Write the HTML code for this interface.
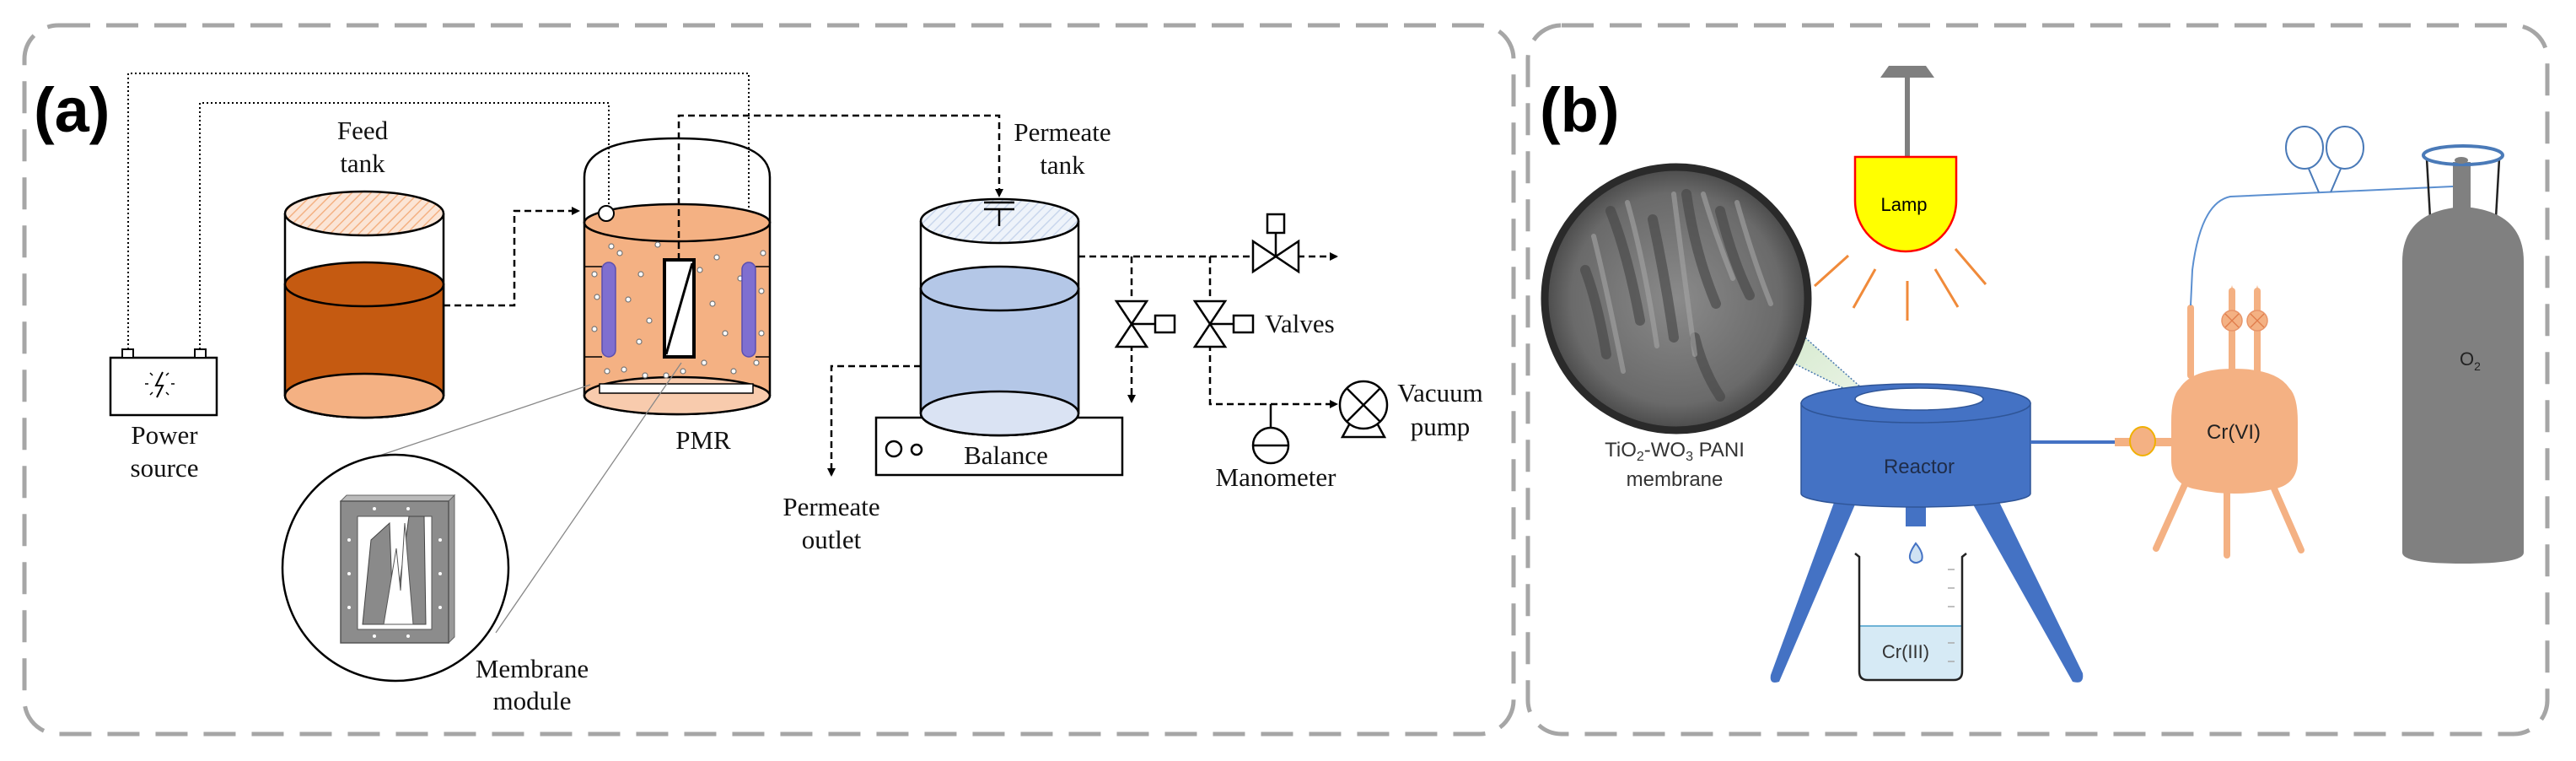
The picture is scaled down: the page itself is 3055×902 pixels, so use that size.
<!DOCTYPE html>
<html><head><meta charset="utf-8"><style>html,body{margin:0;padding:0;background:#fff}svg{display:block}</style></head><body>
<svg width="3055" height="902" viewBox="0 0 3055 902" xmlns="http://www.w3.org/2000/svg">
<defs>
<pattern id="hatchO" width="8" height="8" patternUnits="userSpaceOnUse" patternTransform="rotate(45)"><rect width="8" height="8" fill="#fbe5d6"/><line x1="0" y1="0" x2="0" y2="8" stroke="#f4b183" stroke-width="3"/></pattern>
<pattern id="hatchB" width="8" height="8" patternUnits="userSpaceOnUse" patternTransform="rotate(45)"><rect width="8" height="8" fill="#eef3fa"/><line x1="0" y1="0" x2="0" y2="8" stroke="#c9d6ec" stroke-width="3"/></pattern>
<marker id="arr" markerWidth="10" markerHeight="10" refX="8" refY="5" orient="auto" markerUnits="userSpaceOnUse"><path d="M0,0 L10,5 L0,10 z" fill="#000"/></marker>
<radialGradient id="sem" cx="50%" cy="50%" r="50%"><stop offset="0" stop-color="#8a8a8a"/><stop offset="0.8" stop-color="#6a6a6a"/><stop offset="1" stop-color="#4a4a4a"/></radialGradient>
<linearGradient id="cone" x1="0" y1="0" x2="1" y2="1"><stop offset="0" stop-color="#d7ead0"/><stop offset="1" stop-color="#eef6ea"/></linearGradient>
</defs>
<g fill="none" stroke="#a6a6a6" stroke-width="5" stroke-dasharray="38 19">
<rect x="29" y="30" width="1766" height="840" rx="40"/>
<rect x="1812" y="30" width="1209" height="840" rx="40"/>
</g>

<!-- Panel (a) -->
<text x="40" y="156" font-family="Liberation Sans, sans-serif" font-weight="bold" font-size="74">(a)</text>

<g fill="none" stroke="#000" stroke-width="2" stroke-dasharray="2 3">
<polyline points="152,414 152,87 888,87 888,311"/>
<polyline points="237,414 237,122 722,122 722,311"/>
</g>

<!-- battery -->
<rect x="131" y="424" width="126" height="68" fill="#fff" stroke="#000" stroke-width="2.5"/>
<rect x="145" y="414" width="13" height="10" fill="#fff" stroke="#000" stroke-width="2"/>
<rect x="231" y="414" width="13" height="10" fill="#fff" stroke="#000" stroke-width="2"/>
<path d="M193,441 L185,457 L193,457 L186,471" fill="none" stroke="#000" stroke-width="2"/>
<g stroke="#000" stroke-width="1.5"><line x1="172" y1="455" x2="176" y2="455"/><line x1="203" y1="455" x2="207" y2="455"/><line x1="178" y1="442" x2="181" y2="445"/><line x1="200" y1="442" x2="197" y2="445"/><line x1="178" y1="468" x2="181" y2="465"/><line x1="200" y1="468" x2="197" y2="465"/></g>

<!-- feed tank -->
<path d="M338,253 L338,469 A94,26 0 0 0 526,469 L526,253" fill="#fff" stroke="#000" stroke-width="2.5"/>
<path d="M338,337 L338,469 A94,26 0 0 0 526,469 L526,337 Z" fill="#c55a11" stroke="#000" stroke-width="2.5"/>
<ellipse cx="432" cy="469" rx="94" ry="26" fill="#f4b183" stroke="#000" stroke-width="2.5"/>
<ellipse cx="432" cy="337" rx="94" ry="26" fill="#c55a11" stroke="#000" stroke-width="2.5"/>
<ellipse cx="432" cy="253" rx="94" ry="26" fill="url(#hatchO)" stroke="#000" stroke-width="2.5"/>

<polyline points="526,362 610,362 610,250 686,250" fill="none" stroke="#000" stroke-width="2.5" stroke-dasharray="8 5" marker-end="url(#arr)"/>

<!-- PMR -->
<path d="M693,264 L693,469 A110,22 0 0 0 913,469 L913,264 Z" fill="#f4b183" stroke="#000" stroke-width="2.5"/>
<ellipse cx="803" cy="469" rx="110" ry="22" fill="#f8cbad" stroke="#000" stroke-width="2.5"/>
<ellipse cx="803" cy="264" rx="110" ry="22" fill="#f4b183" stroke="#000" stroke-width="2.5"/>
<path d="M693,264 L693,210 Q693,164 803,164 Q913,164 913,210 L913,264" fill="none" stroke="#000" stroke-width="2.5"/>
<g stroke="#000" stroke-width="1.5"><line x1="693" y1="316" x2="714" y2="316"/><line x1="693" y1="423" x2="714" y2="423"/><line x1="896" y1="316" x2="913" y2="316"/><line x1="896" y1="423" x2="913" y2="423"/></g>
<g fill="#fff" stroke="#777" stroke-width="1.2">
<circle cx="705" cy="325" r="3"/><circle cx="708" cy="352" r="3"/><circle cx="705" cy="390" r="3"/><circle cx="735" cy="300" r="3"/><circle cx="760" cy="325" r="3"/><circle cx="745" cy="355" r="3"/><circle cx="770" cy="380" r="3"/><circle cx="758" cy="405" r="3"/><circle cx="780" cy="290" r="3"/><circle cx="765" cy="445" r="3"/><circle cx="740" cy="438" r="3"/><circle cx="830" cy="320" r="3"/><circle cx="850" cy="305" r="3"/><circle cx="845" cy="360" r="3"/><circle cx="860" cy="395" r="3"/><circle cx="835" cy="430" r="3"/><circle cx="870" cy="440" r="3"/><circle cx="905" cy="300" r="3"/><circle cx="903" cy="345" r="3"/><circle cx="903" cy="395" r="3"/><circle cx="897" cy="430" r="3"/><circle cx="810" cy="440" r="3"/><circle cx="720" cy="440" r="3"/><circle cx="790" cy="445" r="3"/><circle cx="878" cy="330" r="3"/><circle cx="725" cy="292" r="3"/>
</g>
<rect x="714" y="311" width="16" height="112" rx="8" fill="#7f6fd0" stroke="#5b4fb0" stroke-width="1.5"/>
<rect x="880" y="311" width="16" height="112" rx="8" fill="#7f6fd0" stroke="#5b4fb0" stroke-width="1.5"/>
<rect x="788" y="308" width="35" height="115" fill="#fff" stroke="#000" stroke-width="4"/>
<line x1="790" y1="420" x2="821" y2="312" stroke="#000" stroke-width="3"/>
<rect x="711" y="455" width="182" height="11" fill="#fff" stroke="#000" stroke-width="1.5"/>
<circle cx="719" cy="253" r="9" fill="#fff" stroke="#000" stroke-width="2"/>

<g stroke="#888" stroke-width="1.3"><line x1="700" y1="456" x2="450" y2="540"/><line x1="808" y1="430" x2="588" y2="750"/></g>
<circle cx="469" cy="673" r="134" fill="#fff" stroke="#000" stroke-width="2.5"/>
<!-- membrane module -->
<path d="M404,594 L411,587 L539,587 L532,594 Z" fill="#bbb" stroke="#666"/>
<path d="M532,594 L539,587 L539,755 L532,762 Z" fill="#999" stroke="#666"/>
<rect x="404" y="594" width="128" height="168" fill="#8c8c8c" stroke="#555" stroke-width="1.5"/>
<rect x="424" y="612" width="88" height="134" fill="#fff" stroke="#555"/>
<path d="M430,740 L440,640 L462,620 L465,700 L470,720 L485,612 L503,612 L505,740 Z" fill="#8a8a8a" stroke="#444"/>
<path d="M455,740 L470,650 L475,700 L480,620 L490,740 Z" fill="#fff" stroke="#555"/>
<g fill="#fff"><circle cx="444" cy="603" r="2"/><circle cx="484" cy="603" r="2"/><circle cx="414" cy="640" r="2"/><circle cx="414" cy="680" r="2"/><circle cx="414" cy="720" r="2"/><circle cx="522" cy="640" r="2"/><circle cx="522" cy="680" r="2"/><circle cx="522" cy="720" r="2"/><circle cx="444" cy="754" r="2"/><circle cx="484" cy="754" r="2"/></g>

<polyline points="805,308 805,137 1185,137 1185,232" fill="none" stroke="#000" stroke-width="2.5" stroke-dasharray="8 5" marker-end="url(#arr)"/>

<!-- balance & permeate tank -->
<rect x="1039" y="495" width="292" height="68" fill="#fff" stroke="#000" stroke-width="2.5"/>
<circle cx="1060" cy="532" r="9" fill="none" stroke="#000" stroke-width="2.5"/>
<circle cx="1087" cy="533" r="6" fill="none" stroke="#000" stroke-width="2.5"/>
<path d="M1092,262 L1092,490 A93.5,26 0 0 0 1279,490 L1279,262" fill="#fff" stroke="#000" stroke-width="2.5"/>
<path d="M1092,342 L1092,490 A93.5,26 0 0 0 1279,490 L1279,342 Z" fill="#b4c7e7" stroke="#000" stroke-width="2.5"/>
<ellipse cx="1185.5" cy="490" rx="93.5" ry="26" fill="#dae3f3" stroke="#000" stroke-width="2.5"/>
<ellipse cx="1185.5" cy="342" rx="93.5" ry="26" fill="#b4c7e7" stroke="#000" stroke-width="2.5"/>
<ellipse cx="1185.5" cy="262" rx="93.5" ry="26" fill="url(#hatchB)" stroke="#000" stroke-width="2.5"/>
<g stroke="#000" stroke-width="2.5"><line x1="1167" y1="240" x2="1203" y2="240"/><line x1="1167" y1="248" x2="1203" y2="248"/><line x1="1185" y1="248" x2="1185" y2="268"/></g>

<g fill="none" stroke="#000" stroke-width="2.5" stroke-dasharray="8 5">
<polyline points="1092,434 986,434 986,563" marker-end="url(#arr)"/>
<polyline points="1279,304 1585,304" marker-end="url(#arr)"/>
<polyline points="1342,304 1342,476" marker-end="url(#arr)"/>
<polyline points="1435,304 1435,479 1585,479" marker-end="url(#arr)"/>
</g>
<!-- valves -->
<g fill="#fff" stroke="#000" stroke-width="2.5">
<path d="M1486,286 L1486,322 L1540,286 L1540,322 Z"/>
<line x1="1513" y1="304" x2="1513" y2="276"/><rect x="1503" y="254" width="20" height="22"/>
<path d="M1324,357 L1360,357 L1324,411 L1360,411 Z"/>
<line x1="1342" y1="384" x2="1370" y2="384"/><rect x="1370" y="374" width="23" height="20"/>
<path d="M1417,357 L1453,357 L1417,411 L1453,411 Z"/>
<line x1="1435" y1="384" x2="1463" y2="384"/><rect x="1463" y="374" width="23" height="20"/>
<line x1="1507" y1="479" x2="1507" y2="507"/>
<circle cx="1507" cy="528" r="21"/><line x1="1486" y1="528" x2="1528" y2="528"/>
<path d="M1592,518 L1604,496 L1630,496 L1642,518 Z"/>
<circle cx="1617" cy="480" r="28"/>
<line x1="1597" y1="460" x2="1637" y2="500"/><line x1="1637" y1="460" x2="1597" y2="500"/>
</g>

<g font-family="Liberation Serif, serif" font-size="31" text-anchor="middle" fill="#111">
<text x="195" y="526">Power</text><text x="195" y="565">source</text>
<text x="430" y="165">Feed</text><text x="430" y="204">tank</text>
<text x="834" y="532">PMR</text>
<text x="631" y="803">Membrane</text><text x="631" y="841">module</text>
<text x="1260" y="167">Permeate</text><text x="1260" y="206">tank</text>
<text x="986" y="611">Permeate</text><text x="986" y="650">outlet</text>
<text x="1193" y="550">Balance</text>
<text x="1513" y="576">Manometer</text>
<text x="1708" y="476">Vacuum</text><text x="1708" y="516">pump</text>
<text x="1500" y="394" text-anchor="start">Valves</text>
</g>

<!-- Panel (b) -->
<text x="1826" y="156" font-family="Liberation Sans, sans-serif" font-weight="bold" font-size="74">(b)</text>
<rect x="2259" y="88" width="6" height="98" fill="#7f7f7f"/>
<path d="M2240,78 L2284,78 L2294,92 L2230,92 Z" fill="#7f7f7f"/>
<path d="M2200,186 L2320,186 L2320,238 A60,60 0 0 1 2200,238 Z" fill="#ffff00" stroke="#ff0000" stroke-width="2.5"/>
<text x="2258" y="250" font-family="Liberation Sans, sans-serif" font-size="22" text-anchor="middle">Lamp</text>
<g stroke="#f08a3a" stroke-width="3"><line x1="2152" y1="339" x2="2192" y2="303"/><line x1="2198" y1="365" x2="2224" y2="319"/><line x1="2262" y1="380" x2="2262" y2="333"/><line x1="2322" y1="364" x2="2295" y2="319"/><line x1="2355" y1="337" x2="2319" y2="295"/></g>

<path d="M2135,395 L2236,485 L2126,430 Z" fill="url(#cone)" stroke="#4a7ab0" stroke-width="1.5" stroke-dasharray="2 2"/>
<circle cx="1988" cy="354" r="156" fill="url(#sem)" stroke="#2a2a2a" stroke-width="9"/>
<g stroke="#444" stroke-width="12" stroke-linecap="round" fill="none" opacity="0.6">
<path d="M1910,250 Q1930,300 1945,380"/><path d="M1960,260 Q1975,330 1985,400"/><path d="M2000,230 Q2010,300 2035,360"/><path d="M2040,250 Q2055,310 2075,350"/><path d="M1880,320 Q1895,360 1905,420"/><path d="M2010,400 Q2020,440 2040,470"/>
</g>
<g stroke="#a5a5a5" stroke-width="6" stroke-linecap="round" fill="none" opacity="0.6">
<path d="M1930,240 Q1950,310 1965,410"/><path d="M1985,230 Q1995,310 2010,420"/><path d="M2060,240 Q2080,310 2100,360"/><path d="M1890,280 Q1905,340 1925,440"/><path d="M2020,230 Q2035,280 2055,330"/>
</g>
<g font-family="Liberation Sans, sans-serif" font-size="24" text-anchor="middle" fill="#333">
<text x="1986" y="541">TiO<tspan font-size="16" dy="5">2</tspan><tspan dy="-5">-WO</tspan><tspan font-size="16" dy="5">3</tspan><tspan dy="-5"> PANI</tspan></text>
<text x="1986" y="576">membrane</text>
</g>

<path d="M2176,593 L2100,800 Q2098,812 2110,808 L2200,598 Z" fill="#4472c4"/>
<path d="M2340,598 L2458,808 Q2472,812 2470,798 L2370,593 Z" fill="#4472c4"/>
<rect x="2260" y="590" width="24" height="34" fill="#4472c4"/>
<path d="M2136,478 L2136,585 A136,16 0 0 0 2408,585 L2408,478 Z" fill="#4472c4" stroke="#2f5597" stroke-width="1.5"/>
<ellipse cx="2272" cy="478" rx="136" ry="23" fill="#4472c4" stroke="#2f5597" stroke-width="1.5"/>
<ellipse cx="2276" cy="473" rx="76" ry="13" fill="#fff" stroke="#2f5597" stroke-width="1.5"/>
<text x="2276" y="561" font-family="Liberation Sans, sans-serif" font-size="24" text-anchor="middle" fill="#1f2d4a">Reactor</text>
<path d="M2272,644 Q2262,658 2266,664 Q2272,670 2279,664 Q2282,656 2272,644 Z" fill="#cfe2f3" stroke="#4472c4" stroke-width="2"/>
<path d="M2205,742 L2327,742 L2327,796 Q2327,806 2317,806 L2215,806 Q2205,806 2205,796 Z" fill="#d6eaf5"/>
<line x1="2205" y1="742" x2="2327" y2="742" stroke="#6fb3d6" stroke-width="2"/>
<path d="M2200,656 L2205,660 L2205,796 Q2205,806 2215,806 L2317,806 Q2327,806 2327,796 L2327,660 L2332,656" fill="none" stroke="#222" stroke-width="2.5"/>
<g stroke="#aaa" stroke-width="1.5"><line x1="2310" y1="675" x2="2318" y2="675"/><line x1="2310" y1="697" x2="2318" y2="697"/><line x1="2310" y1="719" x2="2318" y2="719"/><line x1="2310" y1="762" x2="2318" y2="762"/><line x1="2310" y1="784" x2="2318" y2="784"/></g>
<text x="2260" y="780" font-family="Liberation Sans, sans-serif" font-size="22" text-anchor="middle" fill="#333">Cr(III)</text>

<line x1="2408" y1="524" x2="2520" y2="524" stroke="#4472c4" stroke-width="4"/>
<rect x="2508" y="519" width="70" height="10" fill="#f4b183"/>
<ellipse cx="2541" cy="523" rx="15" ry="17" fill="#f4b183" stroke="#f0b000" stroke-width="2"/>

<g stroke="#f4b183" stroke-width="8" stroke-linecap="round">
<line x1="2593" y1="570" x2="2557" y2="650"/><line x1="2641" y1="575" x2="2641" y2="658"/><line x1="2693" y1="570" x2="2729" y2="652"/>
<line x1="2598" y1="365" x2="2598" y2="445"/><line x1="2647" y1="345" x2="2647" y2="445"/><line x1="2677" y1="345" x2="2677" y2="445"/>
</g>
<path d="M2647,338 L2644,350 L2650,350 Z M2677,338 L2674,350 L2680,350 Z" fill="#f4b183"/>
<g fill="#f4b183" stroke="#e8956a" stroke-width="1.5"><circle cx="2647" cy="380" r="12"/><circle cx="2677" cy="380" r="12"/></g>
<g stroke="#e07b4a" stroke-width="1.3"><line x1="2639" y1="372" x2="2655" y2="388"/><line x1="2655" y1="372" x2="2639" y2="388"/><line x1="2669" y1="372" x2="2685" y2="388"/><line x1="2685" y1="372" x2="2669" y2="388"/></g>
<path d="M2585,460 Q2600,437 2649,437 Q2700,437 2715,460 Q2725,470 2725,500 L2725,545 Q2725,575 2695,580 Q2650,590 2605,580 Q2575,575 2575,545 L2575,500 Q2575,470 2585,460 Z" fill="#f4b183"/>
<text x="2649" y="520" font-family="Liberation Sans, sans-serif" font-size="24" text-anchor="middle" fill="#222">Cr(VI)</text>

<path d="M2598,362 L2600,320 Q2610,240 2645,233 L2909,221" fill="none" stroke="#5b8fd0" stroke-width="2"/>
<g fill="none" stroke="#4a7ab8" stroke-width="2">
<ellipse cx="2733" cy="175" rx="22" ry="25"/><ellipse cx="2781" cy="175" rx="22" ry="25"/>
<line x1="2738" y1="200" x2="2750" y2="228"/><line x1="2776" y1="200" x2="2764" y2="228"/>
</g>
<g stroke="#222" stroke-width="2.5"><line x1="2878" y1="188" x2="2882" y2="258"/><line x1="2964" y1="188" x2="2960" y2="258"/></g>
<rect x="2909" y="192" width="21" height="60" fill="#808080"/>
<path d="M2849,310 Q2849,250 2921,245 Q2993,250 2993,310 L2993,655 Q2993,668 2921,668 Q2849,668 2849,655 Z" fill="#808080"/>
<ellipse cx="2921" cy="184" rx="47" ry="11" fill="none" stroke="#4a7ab8" stroke-width="4"/>
<ellipse cx="2919" cy="190" rx="8" ry="4" fill="#808080"/>
<text x="2917" y="433" font-family="Liberation Sans, sans-serif" font-size="22" fill="#222">O<tspan font-size="14" dy="6">2</tspan></text>
</svg>
</body></html>
